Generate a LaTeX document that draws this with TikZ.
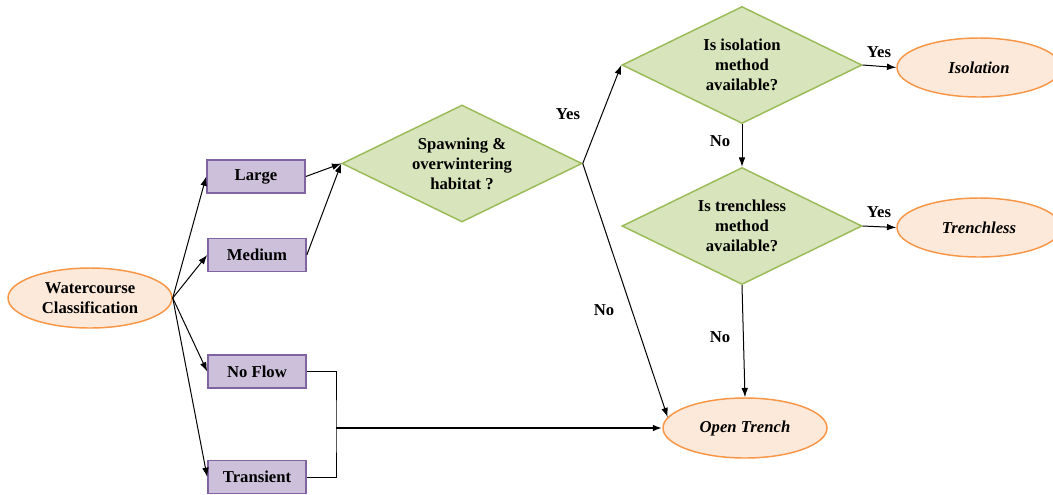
\documentclass[tikz,border=0pt]{standalone}
\usepackage{fontspec}
\setmainfont{Liberation Serif}
\usetikzlibrary{shapes.geometric,arrows.meta}

\definecolor{boxfill}{HTML}{CCC0DA}
\definecolor{boxline}{HTML}{8064A2}
\definecolor{askfill}{HTML}{D7E4BC}
\definecolor{askline}{HTML}{9BBB59}
\definecolor{endfill}{HTML}{FDE9D9}
\definecolor{endline}{HTML}{F79646}

\newcommand{\chartfont}{\fontsize{12.5}{15}\selectfont\bfseries}

\tikzset{every picture/.style={line width=0.75pt}}
\tikzset{
  classbox/.style={draw=boxline, fill=boxfill, line width=1.2pt, minimum width=73.5pt, minimum height=24.75pt, inner sep=0pt, font=\chartfont},
  askbox/.style={diamond, aspect=2, draw=askline, fill=askfill, line width=1.1pt, minimum width=180pt, minimum height=87.75pt, inner sep=0pt, align=center, font=\chartfont},
  endbox/.style={ellipse, draw=endline, fill=endfill, line width=1.1pt, inner sep=0pt, align=center, font=\chartfont},
  flow/.style={-{Latex[length=7pt,width=5pt]}},
  answer/.style={inner sep=0.75pt, font=\chartfont}
}

\begin{document}
\begin{tikzpicture}[x=0.75pt,y=0.75pt,yscale=-1,xscale=1]
        \useasboundingbox (0,0) rectangle (1053,494);

        %Shape: Ellipse [start]
        \node [endbox, minimum width=123pt, minimum height=45pt] (water) at (90,298) {Watercourse\\Classification};

        %Shape: Rectangle [classes]
        \node [classbox] (large) at (256,176.5) {Large};
        \node [classbox] (medium) at (257,255) {Medium};
        \node [classbox] (noflow) at (257,371.5) {No Flow};
        \node [classbox] (transient) at (257,477) {Transient};

        %Shape: Diamond [questions]
        \node [askbox] (spawn) at (462,163.5) {Spawning \&\\overwintering\\habitat ?};
        \node [askbox] (isoask) at (742,65) {Is isolation\\method\\available?};
        \node [askbox] (trenchask) at (742,226) {Is trenchless\\method\\available?};

        %Shape: Ellipse [outcomes]
        \node [endbox, minimum width=123pt, minimum height=44.25pt] (isolation) at (979,67.5) {\itshape Isolation};
        \node [endbox, minimum width=123pt, minimum height=44.25pt] (trenchless) at (979,227.5) {\itshape Trenchless};
        \node [endbox, minimum width=123pt, minimum height=45pt] (opentrench) at (745,428) {\itshape Open Trench};

        %Straight Lines [classification]
        \draw [flow] (water.east) -- (large.west);
        \draw [flow] (water.east) -- (medium.west);
        \draw [flow] (water.east) -- (noflow.west);
        \draw [flow] (water.east) -- (transient.west);

        %Straight Lines [habitat]
        \draw [flow] (large.east) -- (spawn.west);
        \draw [flow] (medium.east) -- (spawn.west);
        \draw [flow] (spawn.east) -- (isoask.west);
        \draw [flow] (spawn.east) -- (opentrench.172);

        %Straight Lines [methods]
        \draw [flow] (isoask.east) -- (isolation.west);
        \draw [flow] (isoask.south) -- (trenchask.north);
        \draw [flow] (trenchask.east) -- (trenchless.west);
        \draw [flow] (trenchask.south) -- (opentrench.north);

        %Straight Lines [no flow and transient]
        \coordinate (bend) at (336,428);
        \draw (noflow.east) -| (bend) |- (transient.east);
        \draw [flow, line width=1.5pt] (bend) -- (opentrench.west);

        % Text Node
        \node [answer] (yes1) at (568,114) {Yes};
        \node [answer] (no1) at (604,310) {No};
        \node [answer] (no2) at (720,141) {No};
        \node [answer] (yes2) at (879,52) {Yes};
        \node [answer] (yes3) at (879,212) {Yes};
        \node [answer] (no3) at (720,337) {No};

\end{tikzpicture}
\end{document}
